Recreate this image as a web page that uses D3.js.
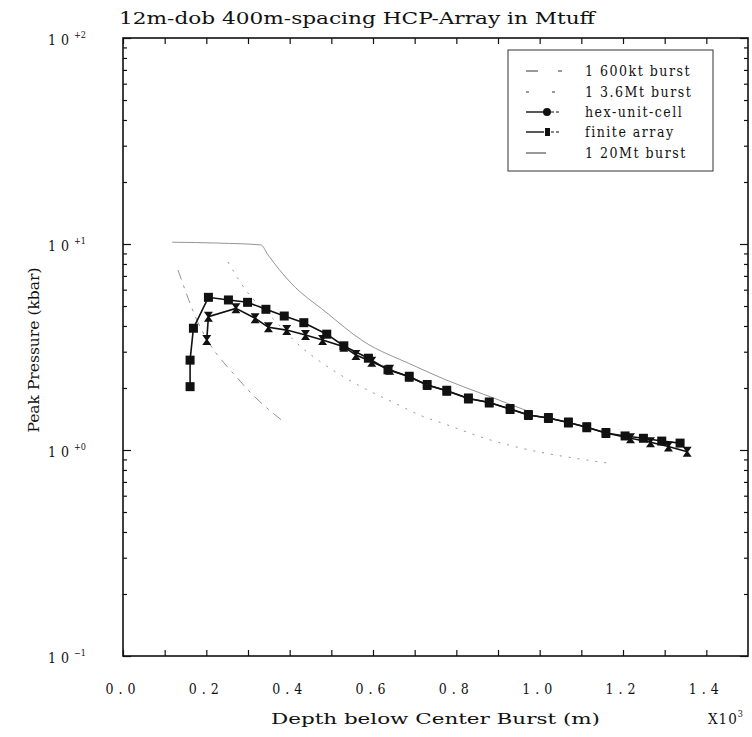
<!DOCTYPE html>
<html>
<head>
<meta charset="utf-8">
<script src="https://cdn.jsdelivr.net/npm/d3@7"></script>
<style>
  body { margin: 0; background: #fff; }
  svg text { font-family: "DejaVu Serif Condensed", "Liberation Serif", serif; fill: #111; }
</style>
</head>
<body>
<svg width="752" height="737"></svg>
<script>
// finite array (squares)
const finiteX = [0.161, 0.161, 0.169, 0.205, 0.253, 0.299, 0.343, 0.387, 0.434, 0.489, 0.530, 0.589, 0.636, 0.687, 0.730, 0.777, 0.829, 0.879, 0.929, 0.973, 1.021, 1.069, 1.113, 1.159, 1.205, 1.249, 1.293, 1.337];
const finiteP = [2.03, 2.73, 3.90, 5.51, 5.35, 5.21, 4.82, 4.47, 4.15, 3.65, 3.20, 2.79, 2.45, 2.27, 2.07, 1.94, 1.78, 1.70, 1.58, 1.48, 1.43, 1.36, 1.29, 1.21, 1.17, 1.14, 1.105, 1.08];
// hex-unit-cell
const hexX = [0.201, 0.205, 0.271, 0.317, 0.349, 0.393, 0.438, 0.479, 0.530, 0.559, 0.597, 0.640, 0.687, 0.730, 0.777, 0.829, 0.879, 0.929, 0.973, 1.021, 1.069, 1.113, 1.159, 1.218, 1.266, 1.309, 1.354];
const hexP = [3.42, 4.44, 4.87, 4.36, 3.94, 3.82, 3.62, 3.42, 3.17, 2.89, 2.68, 2.45, 2.27, 2.07, 1.94, 1.78, 1.70, 1.58, 1.48, 1.43, 1.36, 1.29, 1.21, 1.14, 1.09, 1.04, 0.98];
// single bursts
const b600X = [0.132, 0.156, 0.168, 0.281, 0.324, 0.386];
const b600P = [7.48, 5.47, 4.73, 2.16, 1.75, 1.37];
const b36X = [0.252, 0.286, 0.370, 0.430, 0.475, 0.518, 0.665, 0.718, 0.766, 0.881, 1.162];
const b36P = [8.18, 6.32, 4.14, 3.13, 2.67, 2.34, 1.64, 1.46, 1.35, 1.12, 0.865];
const b20X = [0.118, 0.230, 0.331, 0.348, 0.403, 0.487, 0.576, 0.694, 0.775, 0.876, 0.977];
const b20P = [10.2, 10.1, 9.9, 8.85, 6.47, 4.67, 3.38, 2.59, 2.19, 1.83, 1.53];

const xLabelVals = [0, 0.2, 0.4, 0.6, 0.8, 1.0, 1.2, 1.4];
const xLabelText = ["0.0", "0.2", "0.4", "0.6", "0.8", "1.0", "1.2", "1.4"];
const yDecades = [0.1, 1, 10, 100];
const yExp = ["\u22121", "+0", "+1", "+2"];

const legendNames = ["1 600kt burst", "1 3.6Mt burst", "hex-unit-cell", "finite array", "1 20Mt burst"];

const svg = d3.select("svg");
const L = 123, R = 748, T = 38, B = 656;

const x = d3.scaleLinear().domain([0, 1.5]).range([L, R]);
const y = d3.scaleLog().domain([0.1, 100]).range([B, T]);

// ticks
const xTicks = d3.range(0, 15).map(i => i / 10);
const allY = y.ticks();
const minorY = allY.filter(v => yDecades.indexOf(v) < 0);

function noDomain(g) { g.select(".domain").remove(); g.selectAll("line").attr("stroke", "#111").attr("stroke-width", 1.2); }

svg.append("g").attr("transform", `translate(0,${B})`)
  .call(d3.axisBottom(x).tickValues(xTicks).tickSize(-6).tickFormat(""))
  .call(noDomain);
svg.append("g").attr("transform", `translate(0,${T})`)
  .call(d3.axisTop(x).tickValues(xTicks).tickSize(-6).tickFormat(""))
  .call(noDomain);
svg.append("g").attr("transform", `translate(${L},0)`)
  .call(d3.axisLeft(y).tickValues(yDecades).tickSize(-8).tickFormat(""))
  .call(noDomain);
svg.append("g").attr("transform", `translate(${L},0)`)
  .call(d3.axisLeft(y).tickValues(minorY).tickSize(-4).tickFormat(""))
  .call(noDomain);
svg.append("g").attr("transform", `translate(${R},0)`)
  .call(d3.axisRight(y).tickValues(yDecades).tickSize(-8).tickFormat(""))
  .call(noDomain);
svg.append("g").attr("transform", `translate(${R},0)`)
  .call(d3.axisRight(y).tickValues(minorY).tickSize(-4).tickFormat(""))
  .call(noDomain);

// frame
svg.append("rect").attr("x", L).attr("y", T).attr("width", R - L).attr("height", B - T)
  .attr("fill", "none").attr("stroke", "#111").attr("stroke-width", 1.6);

// x labels
svg.append("g").selectAll("text").data(xLabelVals).join("text")
  .attr("x", d => x(d)).attr("y", 694)
  .attr("text-anchor", "middle").attr("font-size", 14).attr("letter-spacing", 5)
  .text((d, i) => xLabelText[i]);

// y labels
const yl = svg.append("g").selectAll("text").data(yDecades).join("text")
  .attr("x", 48).attr("y", d => y(d) + 7).attr("font-size", 14).attr("letter-spacing", 5);
yl.append("tspan").text("10");
yl.append("tspan").attr("font-size", 9).attr("dy", -7).attr("letter-spacing", 0).text((d, i) => yExp[i]);

// titles
svg.append("text").attr("x", 119).attr("y", 24).attr("font-size", 16)
  .attr("textLength", 476).attr("lengthAdjust", "spacingAndGlyphs")
  .text("12m-dob 400m-spacing HCP-Array in Mtuff");
svg.append("text").attr("x", 271).attr("y", 724).attr("font-size", 15)
  .attr("textLength", 329).attr("lengthAdjust", "spacingAndGlyphs")
  .text("Depth below Center Burst (m)");
const xm = svg.append("text").attr("x", 708).attr("y", 724).attr("font-size", 15).attr("letter-spacing", 1);
xm.append("tspan").text("X10");
xm.append("tspan").attr("font-size", 9).attr("dy", -7).text("3");
svg.append("text").attr("transform", "translate(39,350) rotate(-90)")
  .attr("text-anchor", "middle").attr("font-size", 15)
  .attr("textLength", 165).attr("lengthAdjust", "spacingAndGlyphs")
  .text("Peak Pressure (kbar)");

// single-burst curves (faint in the original)
const line = d3.line().x(d => x(d[0])).y(d => y(d[1])).curve(d3.curveMonotoneX);
const bursts = [
  { xs: b600X, ps: b600P, dash: "10,6,3,6" },
  { xs: b36X, ps: b36P, dash: "2,7" },
  { xs: b20X, ps: b20P, dash: null }
];
bursts.forEach(b => {
  svg.append("path").datum(d3.zip(b.xs, b.ps))
    .attr("d", line).attr("fill", "none").attr("stroke", "#888").attr("stroke-width", 0.9)
    .attr("stroke-dasharray", b.dash);
});

// data series
const lin = d3.line().x(d => x(d[0])).y(d => y(d[1]));
const hexData = d3.zip(hexX, hexP);
const finData = d3.zip(finiteX, finiteP);
svg.append("path").datum(hexData).attr("d", lin).attr("fill", "none").attr("stroke", "#111").attr("stroke-width", 1.6);
svg.append("path").datum(finData).attr("d", lin).attr("fill", "none").attr("stroke", "#111").attr("stroke-width", 1.6);

const hourglass = "M-4.5,-5 L4.5,-5 L1,0 L4.5,5 L-4.5,5 L-1,0 Z";
svg.append("g").selectAll("path").data(hexData).join("path")
  .attr("d", hourglass).attr("transform", d => `translate(${x(d[0])},${y(d[1])})`).attr("fill", "#111");
svg.append("g").selectAll("rect").data(finData).join("rect")
  .attr("x", d => x(d[0]) - 4.5).attr("y", d => y(d[1]) - 4.5)
  .attr("width", 9).attr("height", 9).attr("fill", "#111");

// legend
const lg = svg.append("g");
lg.append("rect").attr("x", 508).attr("y", 50).attr("width", 205).attr("height", 121)
  .attr("fill", "#fff").attr("stroke", "#333").attr("stroke-width", 1);
const rowY = [71, 92, 112, 132, 153];
legendNames.forEach((name, i) => {
  const ry = rowY[i];
  if (i === 0) {
    lg.append("line").attr("x1", 526).attr("x2", 562).attr("y1", ry).attr("y2", ry)
      .attr("stroke", "#333").attr("stroke-dasharray", "12,20,4,4");
  } else if (i === 1) {
    lg.append("line").attr("x1", 526).attr("x2", 556).attr("y1", ry).attr("y2", ry)
      .attr("stroke", "#333").attr("stroke-dasharray", "3,23,3,3");
  } else if (i === 4) {
    lg.append("line").attr("x1", 526).attr("x2", 546).attr("y1", ry).attr("y2", ry).attr("stroke", "#333");
  } else {
    lg.append("line").attr("x1", 526).attr("x2", 544).attr("y1", ry).attr("y2", ry).attr("stroke", "#111").attr("stroke-width", 1.4);
    lg.append("line").attr("x1", 551).attr("x2", 559).attr("y1", ry).attr("y2", ry).attr("stroke", "#111").attr("stroke-dasharray", "3,2");
    if (i === 2) lg.append("circle").attr("cx", 547).attr("cy", ry).attr("r", 4).attr("fill", "#111");
    else lg.append("rect").attr("x", 545).attr("y", ry - 4).attr("width", 5).attr("height", 8).attr("fill", "#111");
  }
  lg.append("text").attr("x", 585).attr("y", ry + 5).attr("font-size", 14).attr("letter-spacing", 1.5).text(name);
});
</script>
</body>
</html>
